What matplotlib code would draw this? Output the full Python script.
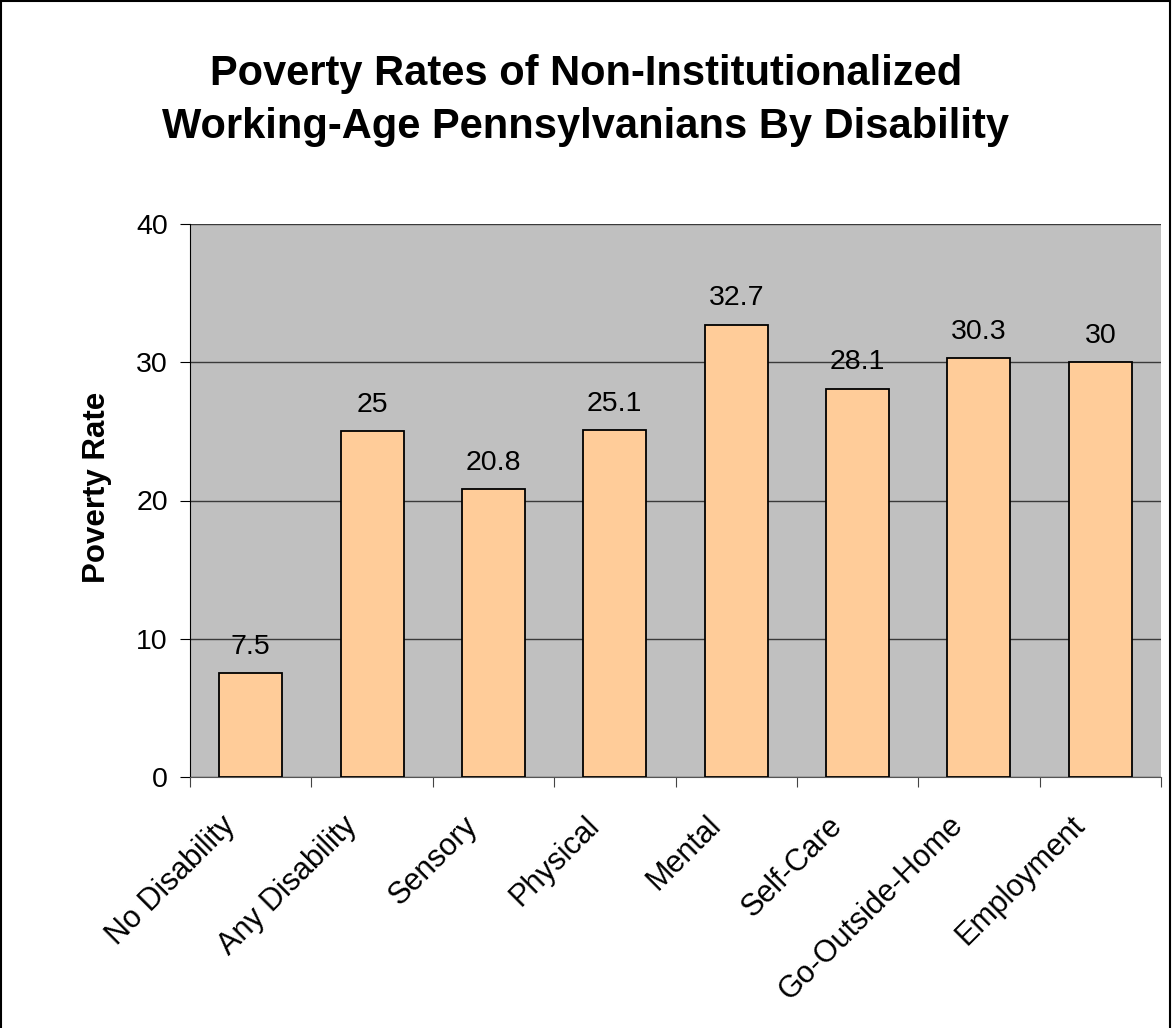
import matplotlib
matplotlib.use("Agg")
import matplotlib.pyplot as plt
import matplotlib.transforms as mtransforms
import numpy as np
from matplotlib.patches import Rectangle

categories = ["No Disability", "Any Disability", "Sensory", "Physical",
              "Mental", "Self-Care", "Go-Outside-Home", "Employment"]
rates = [7.5, 25, 20.8, 25.1, 32.7, 28.1, 30.3, 30]
labels = ["7.5", "25", "20.8", "25.1", "32.7", "28.1", "30.3", "30"]
yticks = [0, 10, 20, 30, 40]

plt.rcParams["font.family"] = ["Liberation Sans", "DejaVu Sans"]

W, H = 1172, 1028
fig = plt.figure(figsize=(W / 100, H / 100), dpi=100)
fig.patches.append(Rectangle((0.001, -0.01), 0.997, 1.009, transform=fig.transFigure,
                             fill=False, edgecolor="black", lw=1.5))
ax = fig.add_axes([190 / W, 1 - 777 / H, 971 / W, 553 / H])
ax.set_facecolor("#C0C0C0")

x = np.arange(len(categories))
ax.bar(x, rates, width=0.52, color="#FFCC99", edgecolor="black", lw=1.3, zorder=3)
for xi, v, t in zip(x, rates, labels):
    ax.annotate(t, (xi, v), textcoords="offset points", xytext=(0, 14),
                ha="center", va="baseline", fontsize=20.5)

ax.set_xlim(-0.5, len(categories) - 0.5)
ax.set_ylim(0, 40)
ax.set_yticks(yticks)
ax.set_yticklabels([str(t) for t in yticks], fontsize=20.5)
ax.yaxis.grid(True, color="#3a3a3a", lw=1, zorder=1)
ax.set_axisbelow(True)

# ticks at category boundaries, labels drawn separately
ax.set_xticks(np.arange(len(categories) + 1) - 0.5)
ax.set_xticklabels([])
ax.tick_params(axis="x", length=7, color="#444444")
ax.tick_params(axis="y", length=7, pad=9)

off = mtransforms.ScaledTranslation(-20 / 100, -44 / 100, fig.dpi_scale_trans)
for xi, name in zip(x, categories):
    ax.text(xi, 0, name, transform=ax.get_xaxis_transform() + off,
            rotation=45, ha="right", va="center", rotation_mode="anchor",
            fontsize=22)

for s in ["top", "right"]:
    ax.spines[s].set_visible(False)
ax.spines["left"].set_color("black")
ax.spines["bottom"].set_color("#555555")

ax.set_ylabel("Poverty Rate", fontsize=22.5, fontweight="bold")
ax.yaxis.set_label_coords(-0.08, 0.524)
fig.text(0.5, 1 - 85 / H, "Poverty Rates of Non-Institutionalized",
         ha="center", va="baseline", fontsize=30, fontweight="bold")
fig.text(0.5, 1 - 138 / H, "Working-Age Pennsylvanians By Disability",
         ha="center", va="baseline", fontsize=30, fontweight="bold")

fig.savefig("out.png", dpi=100)
